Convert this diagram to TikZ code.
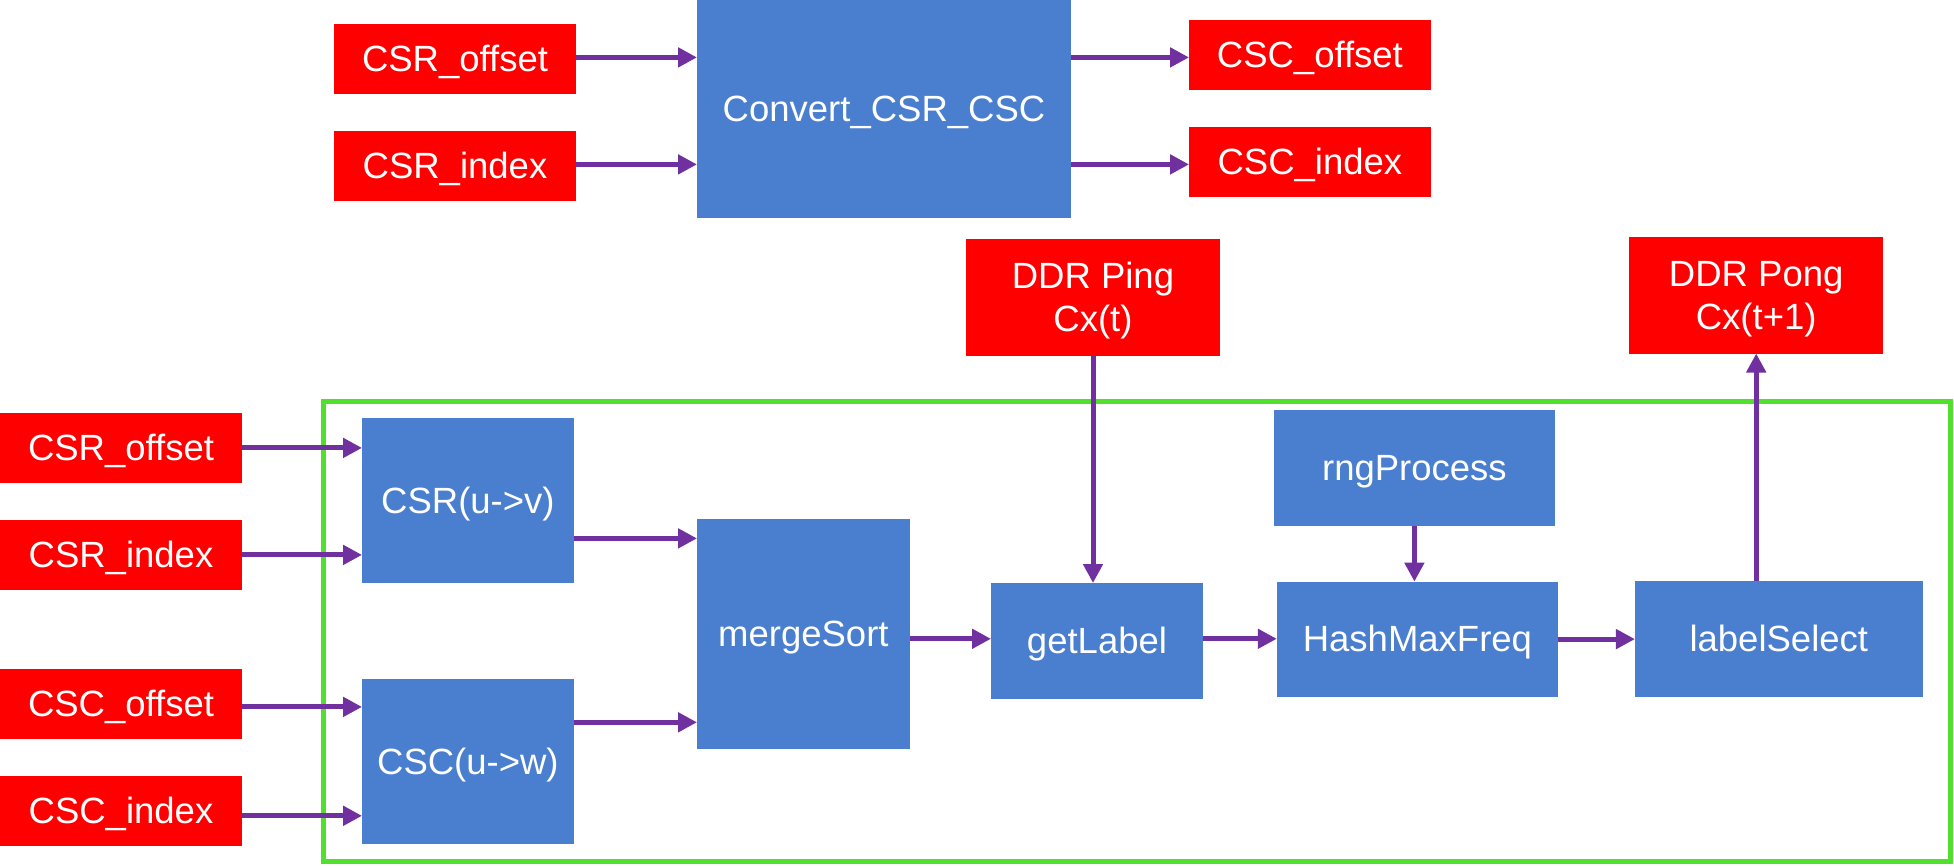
\documentclass[tikz,border=0pt]{standalone}
\usepackage{fontspec}
\setmainfont{Liberation Sans}
\usetikzlibrary{arrows.meta,calc}
\definecolor{boxred}{RGB}{255,0,0}
\definecolor{boxblue}{RGB}{74,126,206}
\definecolor{arrpurple}{RGB}{112,48,160}
\definecolor{framegreen}{RGB}{82,224,46}
\tikzset{
  base/.style={inner sep=0pt, outer sep=0pt, text=white, align=center,
    font=\fontsize{36.5}{42.5}\selectfont, text height=25.5pt, text depth=0pt},
  twoline/.style={text height=68pt, text depth=0pt},
  redbox/.style={base, fill=boxred},
  bluebox/.style={base, fill=boxblue},
  conn/.style={draw=arrpurple, line width=5pt,
    -{Triangle[length=19pt,width=19pt]}},
}
\begin{document}
\begin{tikzpicture}[x=1pt,y=-1pt]
\useasboundingbox (0,0) rectangle (1954,865);
% green frame
\draw[framegreen, line width=5pt] (323,401.7) rectangle (1950.5,861.8);
% top row
\node[redbox, minimum width=242.3, minimum height=69.7] (csrot) at (455,58.9) {CSR\_offset};
\node[redbox, minimum width=242.3, minimum height=69.7] (csrit) at (455,165.9) {CSR\_index};
\node[bluebox, minimum width=374, minimum height=217.7] (conv) at (884,108.9) {Convert\_CSR\_CSC};
\node[redbox, minimum width=241.7, minimum height=69.7] (cscot) at (1309.9,54.9) {CSC\_offset};
\node[redbox, minimum width=241.7, minimum height=69.7] (cscit) at (1309.9,161.9) {CSC\_index};
% DDR
\node[redbox, twoline, minimum width=254, minimum height=116.7] (ping) at (1093,297.3) {DDR Ping\\Cx(t)};
\node[redbox, twoline, minimum width=254.4, minimum height=116.6] (pong) at (1756.2,295.2) {DDR Pong\\Cx(t+1)};
% left inputs
\node[redbox, minimum width=242, minimum height=69.7] (csrol) at (121,447.9) {CSR\_offset};
\node[redbox, minimum width=242, minimum height=69.7] (csril) at (121,554.9) {CSR\_index};
\node[redbox, minimum width=242, minimum height=69.7] (cscol) at (121,703.9) {CSC\_offset};
\node[redbox, minimum width=242, minimum height=69.7] (cscil) at (121,810.8) {CSC\_index};
% blue processing boxes
\node[bluebox, minimum width=211.7, minimum height=164.8] (csruv) at (467.9,500.4) {CSR(u->v)};
\node[bluebox, minimum width=211.7, minimum height=164.8] (cscuw) at (467.9,761.3) {CSC(u->w)};
\node[bluebox, minimum width=212.8, minimum height=229.8] (ms) at (803.4,633.9) {mergeSort};
\node[bluebox, minimum width=212, minimum height=115.6] (gl) at (1097,640.8) {getLabel};
\node[bluebox, minimum width=280.8, minimum height=115.9] (rng) at (1414.4,467.8) {rngProcess};
\node[bluebox, minimum width=281.2, minimum height=115] (hash) at (1417.4,639.1) {HashMaxFreq};
\node[bluebox, minimum width=287.7, minimum height=115.6] (ls) at (1778.8,638.8) {labelSelect};
% top connectors
\draw[conn] ([yshift=1.5]csrot.east) -- ([yshift=1.5]csrot.east -| conv.west);
\draw[conn] ([yshift=1.5]csrit.east) -- ([yshift=1.5]csrit.east -| conv.west);
\draw[conn] ([yshift=1.5]csrot.east -| conv.east) -- ([yshift=1.5]csrot.east -| cscot.west);
\draw[conn] ([yshift=1.5]csrit.east -| conv.east) -- ([yshift=1.5]csrit.east -| cscit.west);
% left connectors
\draw[conn] (csrol.east) -- (csrol.east -| csruv.west);
\draw[conn] (csril.east) -- (csril.east -| csruv.west);
\draw[conn] ([yshift=-3]cscol.east) -- ([yshift=-3]cscol.east -| cscuw.west);
\draw[conn] ([yshift=-5]cscil.east) -- ([yshift=-5]cscil.east -| cscuw.west);
\draw[conn] ([yshift=-38]csruv.east) -- ([yshift=-38]csruv.east -| ms.west);
\draw[conn] ([yshift=39]cscuw.east) -- ([yshift=39]cscuw.east -| ms.west);
% main chain
\draw[conn] ([yshift=2]gl.west -| ms.east) -- ([yshift=2]gl.west);
\draw[conn] ([yshift=2]gl.east) -- ([yshift=2]gl.east -| hash.west);
\draw[conn] (hash.east) -- (hash.east -| ls.west);
\draw[conn] (ping.south) -- (ping.south |- gl.north);
\draw[conn] (rng.south) -- (rng.south |- hash.north);
\draw[conn] (pong.south |- ls.north) -- (pong.south);
\end{tikzpicture}
\end{document}
